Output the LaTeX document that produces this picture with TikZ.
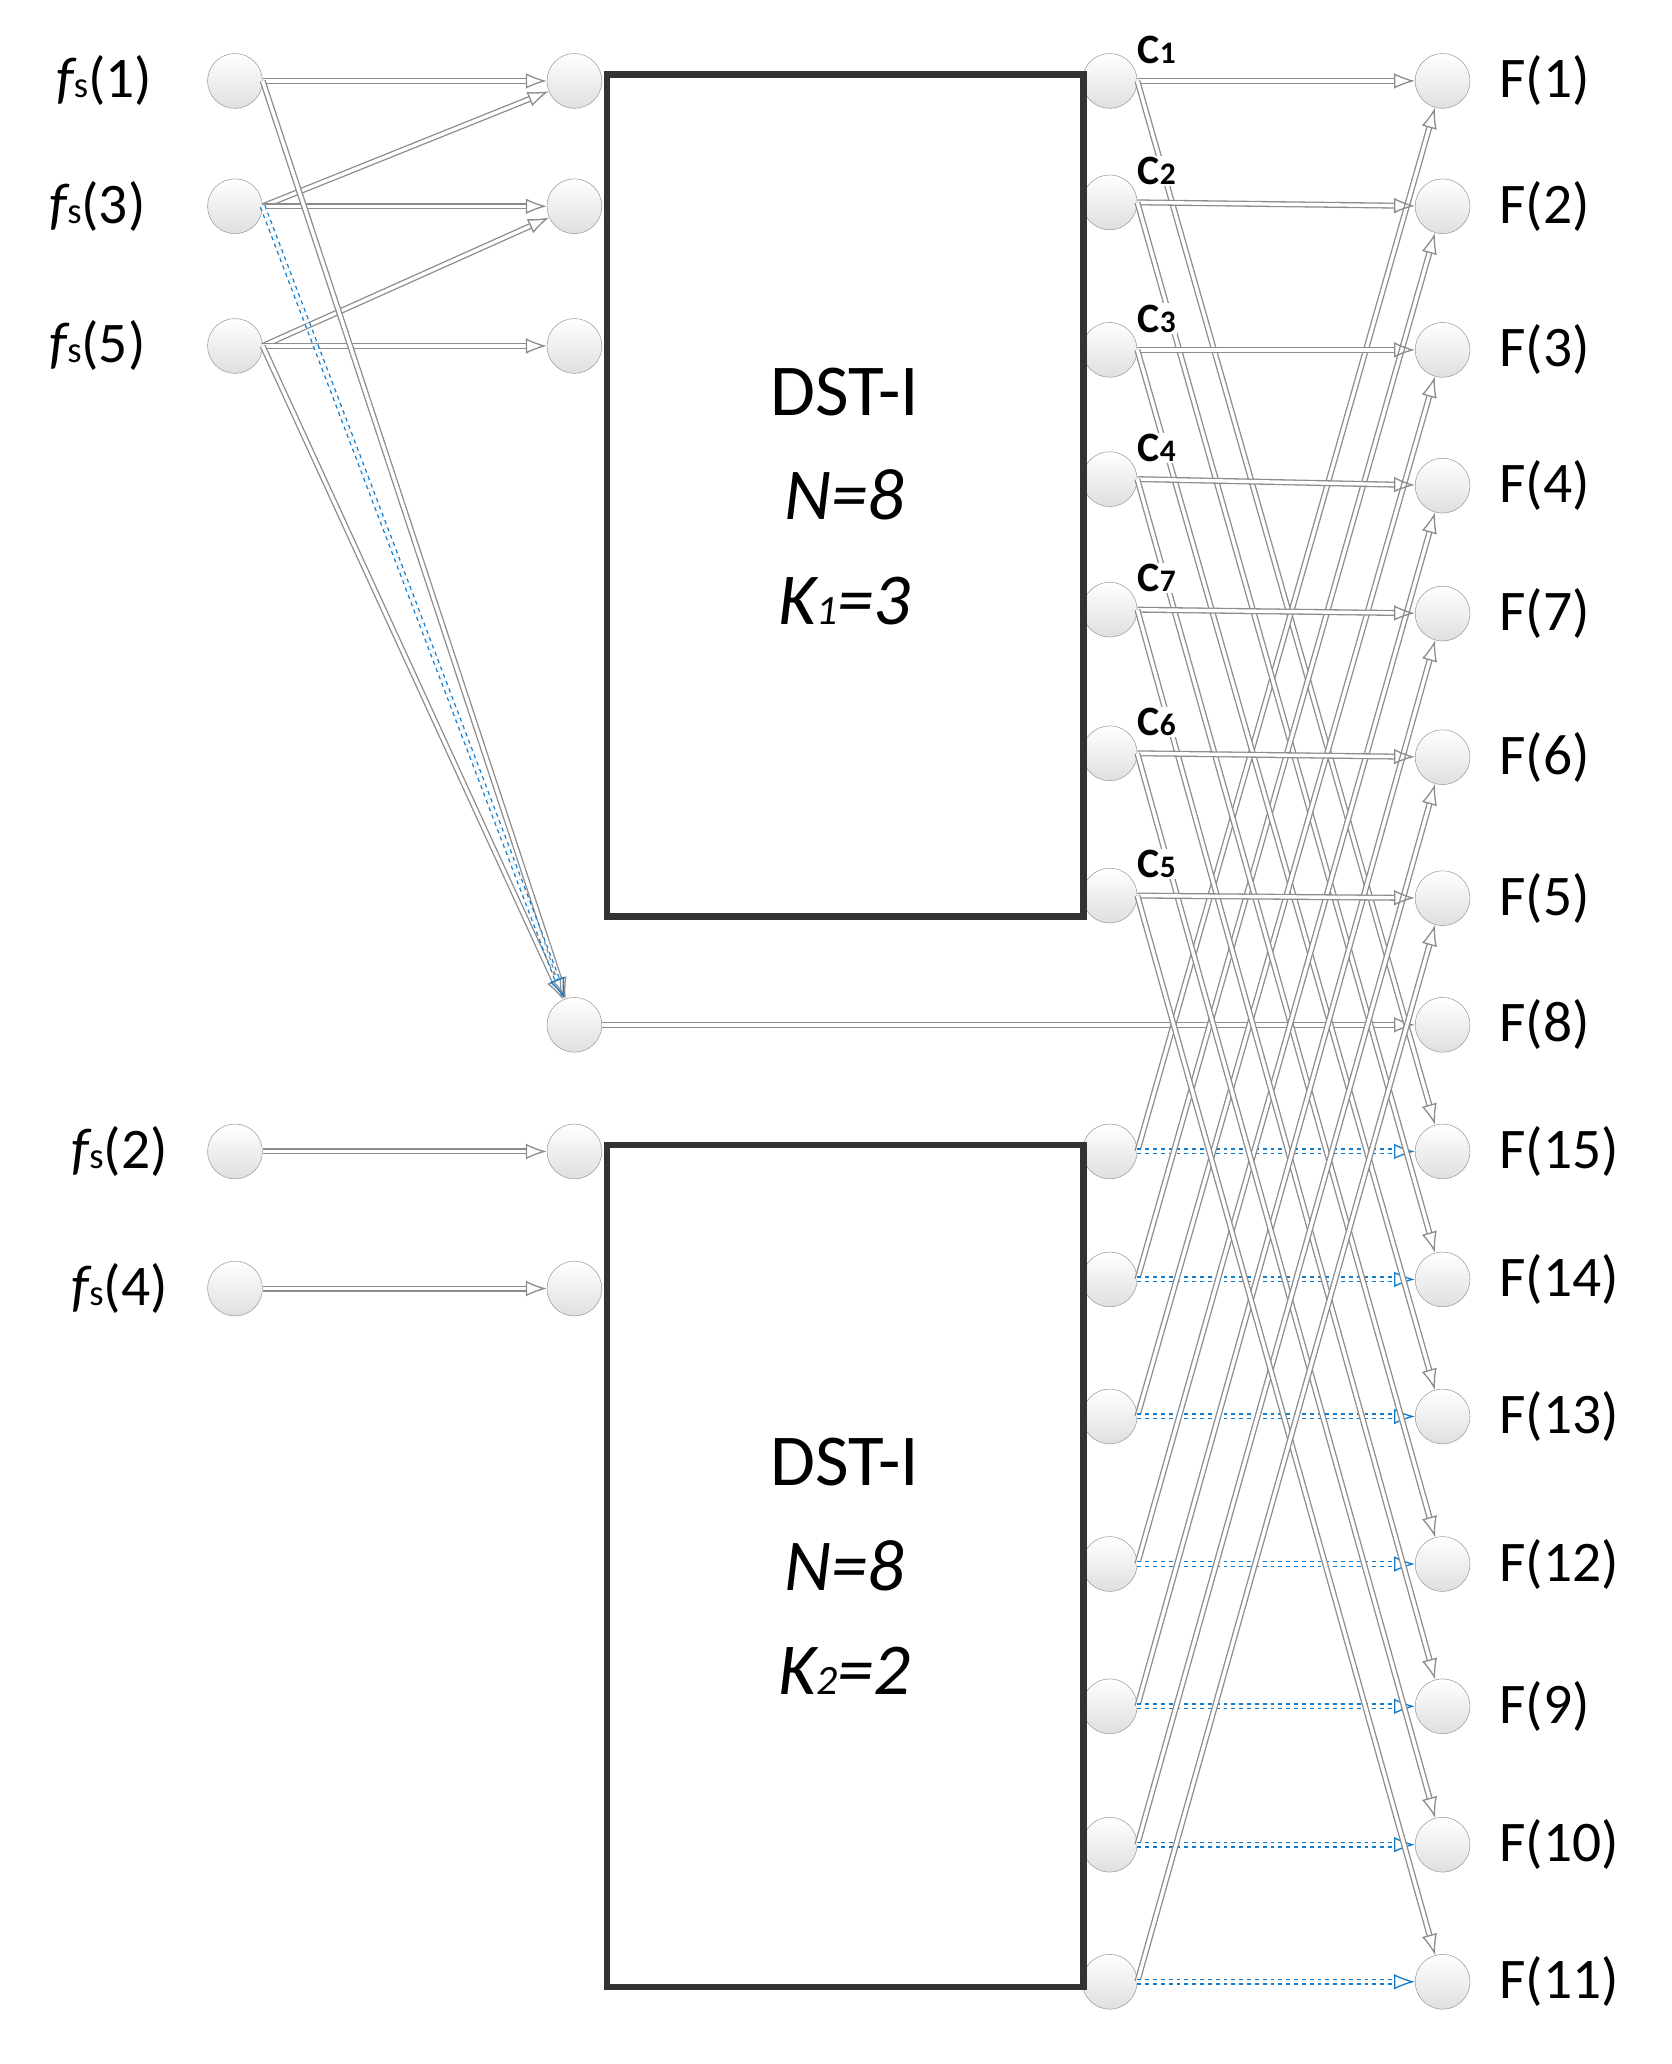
\documentclass[tikz,border=0pt]{standalone}
\usepackage{fontspec}
\setmainfont{Carlito}
\usetikzlibrary{arrows.meta}
\begin{document}
\begin{tikzpicture}[x=1pt,y=-1pt,
  nd/.style={circle,draw=gray!80,inner sep=0pt,minimum size=42pt,top color=white,bottom color=gray!25},
  ed/.style={draw=gray!90,double=white,double distance=2.6pt,line width=1pt,-{Latex[open,length=16pt,width=12pt]}},
  bl/.style={draw=cyan!60!blue,dashed,double=white,double distance=2.6pt,line width=1pt,-{Latex[open,length=16pt,width=12pt]}},
  box/.style={draw=black!80,line width=5pt},
  lab/.style={font=\fontsize{44}{48}\selectfont},
  cl/.style={font=\fontsize{32}{34}\selectfont\bfseries,inner sep=1pt,fill=white}]
\useasboundingbox (0,0) rectangle (1280,1581);
\foreach \n/\y in {s1/62,s3/158,s5/265,s2/882,s4/987}{
  \node[nd] (\n) at (180,\y) {};
}
\node[lab,anchor=east] at (120,62) {{\itshape f}{\fontsize{28}{28}\selectfont s}(1)};
\node[lab,anchor=east] at (115,158) {{\itshape f}{\fontsize{28}{28}\selectfont s}(3)};
\node[lab,anchor=east] at (115,265) {{\itshape f}{\fontsize{28}{28}\selectfont s}(5)};
\node[lab,anchor=east] at (132,882) {{\itshape f}{\fontsize{28}{28}\selectfont s}(2)};
\node[lab,anchor=east] at (132,987) {{\itshape f}{\fontsize{28}{28}\selectfont s}(4)};
\node[nd] (i1) at (440,62) {};
\node[nd] (i2) at (440,158) {};
\node[nd] (i3) at (440,265) {};
\node[nd] (i8) at (440,785) {};
\node[nd] (j1) at (440,882) {};
\node[nd] (j2) at (440,987) {};
\foreach \y [count=\k] in {62,155,268,367,467,577,686,882,980,1085,1198,1307,1413,1518}{
  \node[nd] (o\k) at (850,\y) {};
}
\foreach \y/\t [count=\k] in {62/1,158/2,268/3,372/4,470/7,580/6,688/5,785/8,882/15,980/14,1085/13,1198/12,1307/9,1413/10,1518/11}{
  \node[nd] (F\k) at (1105,\y) {};
  \node[lab,anchor=west] at (1145,\y) {F(\t)};
}
\draw[box,fill=white] (465,57) rectangle (830,702);
\draw[box,fill=white] (465,877) rectangle (830,1522);
\node[align=center,font=\fontsize{56}{80}\selectfont] at (647,380) {DST-I\\\itshape N=8\\\itshape K{\fontsize{32}{32}\selectfont 1}=3};
\node[align=center,font=\fontsize{56}{80}\selectfont] at (647,1200) {DST-I\\\itshape N=8\\\itshape K{\fontsize{32}{32}\selectfont 2}=2};
\draw[ed] (s1.east) -- (i1);
\draw[ed] (s3.east) -- (i1);
\draw[ed] (s3.east) -- (i2);
\draw[ed] (s5.east) -- (i2);
\draw[ed] (s5.east) -- (i3);
\draw[ed] (s1.east) -- (i8);
\draw[ed] (s5.east) -- (i8);
\draw[bl] (s3.east) -- (i8);
\draw[ed] (s2) -- (j1);
\draw[ed] (s4) -- (j2);
\draw[ed] (i8) -- (F8);
\foreach \k [evaluate=\k as \m using int(\k+8), evaluate=\k as \b using int(\k+7)] in {1,...,7}{
  \draw[ed] (o\k.east) -- (F\k);
  \draw[ed] (o\k.east) -- (F\m);
  \draw[ed] (o\b.east) -- (F\k);
  \draw[bl] (o\b.east) -- (F\m);
}
\foreach \k/\t in {1/1,2/2,3/3,4/4,5/7,6/6,7/5}{
  \path (o\k) ++(36,-24) node[cl] {C{\fontsize{24}{24}\selectfont\t}};
}
\end{tikzpicture}
\end{document}
